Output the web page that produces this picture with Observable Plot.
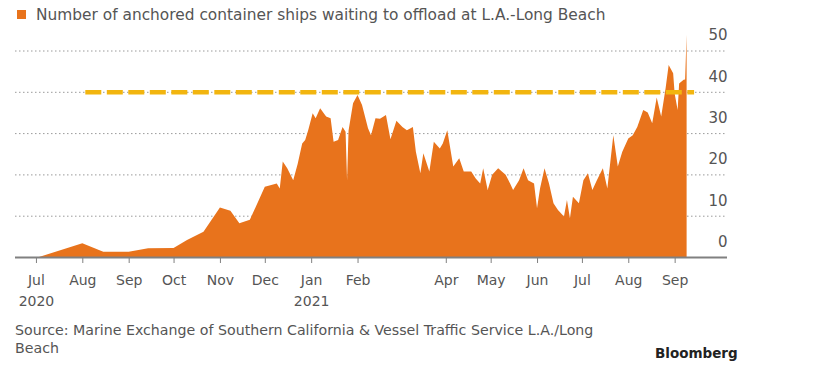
<!DOCTYPE html>
<html><head><meta charset="utf-8">
<script src="https://cdn.jsdelivr.net/npm/d3@7"></script>
<script src="https://cdn.jsdelivr.net/npm/@observablehq/plot@0.6"></script>
<style>
body{margin:0;background:#fff;font-family:"DejaVu Sans",sans-serif;width:816px;height:371px;overflow:hidden;position:relative}
#legend{height:28px;position:relative}
.sw{position:absolute;left:17px;top:10px;width:9px;height:9px;background:#e8731c}
.lt{position:absolute;left:36px;top:5px;font-size:15.4px;color:#555;white-space:nowrap;line-height:20px}
#chart svg{display:block}
#caption{position:absolute;left:15px;top:321px;font-size:14.2px;line-height:18px;color:#555;white-space:nowrap}
#brand{position:absolute;left:655px;top:345px;font-weight:bold;font-size:13.5px;color:#222}
</style></head>
<body>
<div id="legend"><div class="sw"></div><div class="lt">Number of anchored container ships waiting to offload at L.A.-Long Beach</div></div>
<div id="chart"></div>
<div id="caption">Source: Marine Exchange of Southern California &amp; Vessel Traffic Service L.A./Long<br>Beach</div>
<div id="brand">Bloomberg</div>
<script>
const dates = ["2020-07-03","2020-08-01","2020-08-15","2020-09-01","2020-09-14","2020-10-01","2020-10-10","2020-10-21","2020-11-01","2020-11-08","2020-11-14","2020-11-21","2020-12-01","2020-12-09","2020-12-11","2020-12-13","2020-12-16","2020-12-20","2020-12-23","2020-12-26","2020-12-28","2020-12-30","2021-01-02","2021-01-04","2021-01-07","2021-01-11","2021-01-14","2021-01-16","2021-01-19","2021-01-22","2021-01-24","2021-01-25","2021-01-26","2021-01-29","2021-02-01","2021-02-04","2021-02-08","2021-02-10","2021-02-13","2021-02-16","2021-02-20","2021-02-23","2021-02-27","2021-03-03","2021-03-06","2021-03-10","2021-03-12","2021-03-15","2021-03-17","2021-03-21","2021-03-24","2021-03-28","2021-03-30","2021-04-02","2021-04-06","2021-04-10","2021-04-13","2021-04-18","2021-04-21","2021-04-24","2021-04-26","2021-04-29","2021-05-02","2021-05-06","2021-05-11","2021-05-14","2021-05-16","2021-05-20","2021-05-23","2021-05-26","2021-05-30","2021-06-01","2021-06-03","2021-06-06","2021-06-09","2021-06-12","2021-06-15","2021-06-19","2021-06-21","2021-06-23","2021-06-25","2021-06-29","2021-07-02","2021-07-05","2021-07-08","2021-07-11","2021-07-15","2021-07-18","2021-07-22","2021-07-25","2021-07-28","2021-08-01","2021-08-04","2021-08-07","2021-08-11","2021-08-14","2021-08-17","2021-08-20","2021-08-23","2021-08-26","2021-08-28","2021-08-31","2021-09-01","2021-09-03","2021-09-04","2021-09-07","2021-09-08","2021-09-09"];
const ships = [0,3.3,1.3,1.3,2.1,2.2,4.1,6.1,12,11.2,8.2,9,17,17.8,16.6,23.1,21.5,18.6,22.6,27.5,28.3,30.7,34.8,33.6,36,34,33.6,27.9,28.3,31.5,30.3,18.6,30.6,37.2,39.2,36.8,31.2,29.5,33.6,33.5,34.4,28.5,33,31.5,30.7,31.5,25.5,20.3,25.1,20.7,27.9,26.3,27.5,30.7,21.9,23.9,20.7,20.7,19,17.8,21.5,16.2,19.9,21.5,19.9,17.8,16.2,18.6,21.5,18.6,17.8,11.8,16.6,21.5,17.8,13,11.4,9.8,13.8,9.4,14.6,13,18.6,20.3,16.2,18.6,21.5,16.6,29.5,21.9,25.5,28.7,29.5,31.5,35.6,35,32.4,38.6,34,41,46.5,44.5,39.6,35.6,42,42.9,43,53.8];
const monthTicks = ["2020-07-01","2020-08-01","2020-09-01","2020-10-01","2020-11-01","2020-12-01","2021-01-01","2021-02-01","2021-04-01","2021-05-01","2021-06-01","2021-07-01","2021-08-01","2021-09-01"];
const yTicks = [0,10,20,30,40,50];
const gridValues = [10,20,30,40,50];
const recordLevel = 40;
const recordSpan = ["2020-08-03","2021-09-14"];
const xDomain = ["2020-06-17","2021-10-06"];

const data = dates.map((d,i)=>({date:new Date(d), value:ships[i]}));
const record = [{y:recordLevel, x1:new Date(recordSpan[0]), x2:new Date(recordSpan[1])}];
const tickDates = monthTicks.map(d=>new Date(d));
const mfmt = d3.utcFormat("%b");
const fmt = (d,i) => (i===0 || d.getUTCMonth()===0) ? mfmt(d)+"\n"+d.getUTCFullYear() : mfmt(d);

const chart = Plot.plot({
  width:816, height:289,
  marginLeft:15, marginRight:89, marginTop:22.5, marginBottom:60,
  x:{type:"utc", domain:xDomain.map(d=>new Date(d))},
  y:{domain:[0,50]},
  style:{fontFamily:"DejaVu Sans", color:"#555", background:"#fff", overflow:"visible"},
  marks:[
    Plot.gridY(gridValues,{stroke:"#9a9a9a", strokeOpacity:1, strokeDasharray:"1.5,2.5", strokeWidth:1}),
    Plot.areaY(data,{x:"date", y:"value", fill:"#e8731c"}),
    Plot.ruleY(record,{y:"y", x1:"x1", x2:"x2", stroke:"#f2b50f", strokeWidth:4.5, strokeDasharray:"16,5.5"}),
    Plot.ruleY([0],{stroke:"#808080", strokeWidth:2}),
    Plot.axisX({ticks:tickDates, tickSize:6, tickPadding:7, tickFormat:fmt, fontSize:14, lineHeight:1.5, stroke:"#808080", fill:"#555", label:null}),
    Plot.axisY({anchor:"right", ticks:yTicks, tickSize:0, tickPadding:0, textAnchor:"end", dy:-15.5, fontSize:15, fill:"#555", label:null})
  ]
});
document.getElementById("chart").appendChild(chart);
</script>
</body></html>
